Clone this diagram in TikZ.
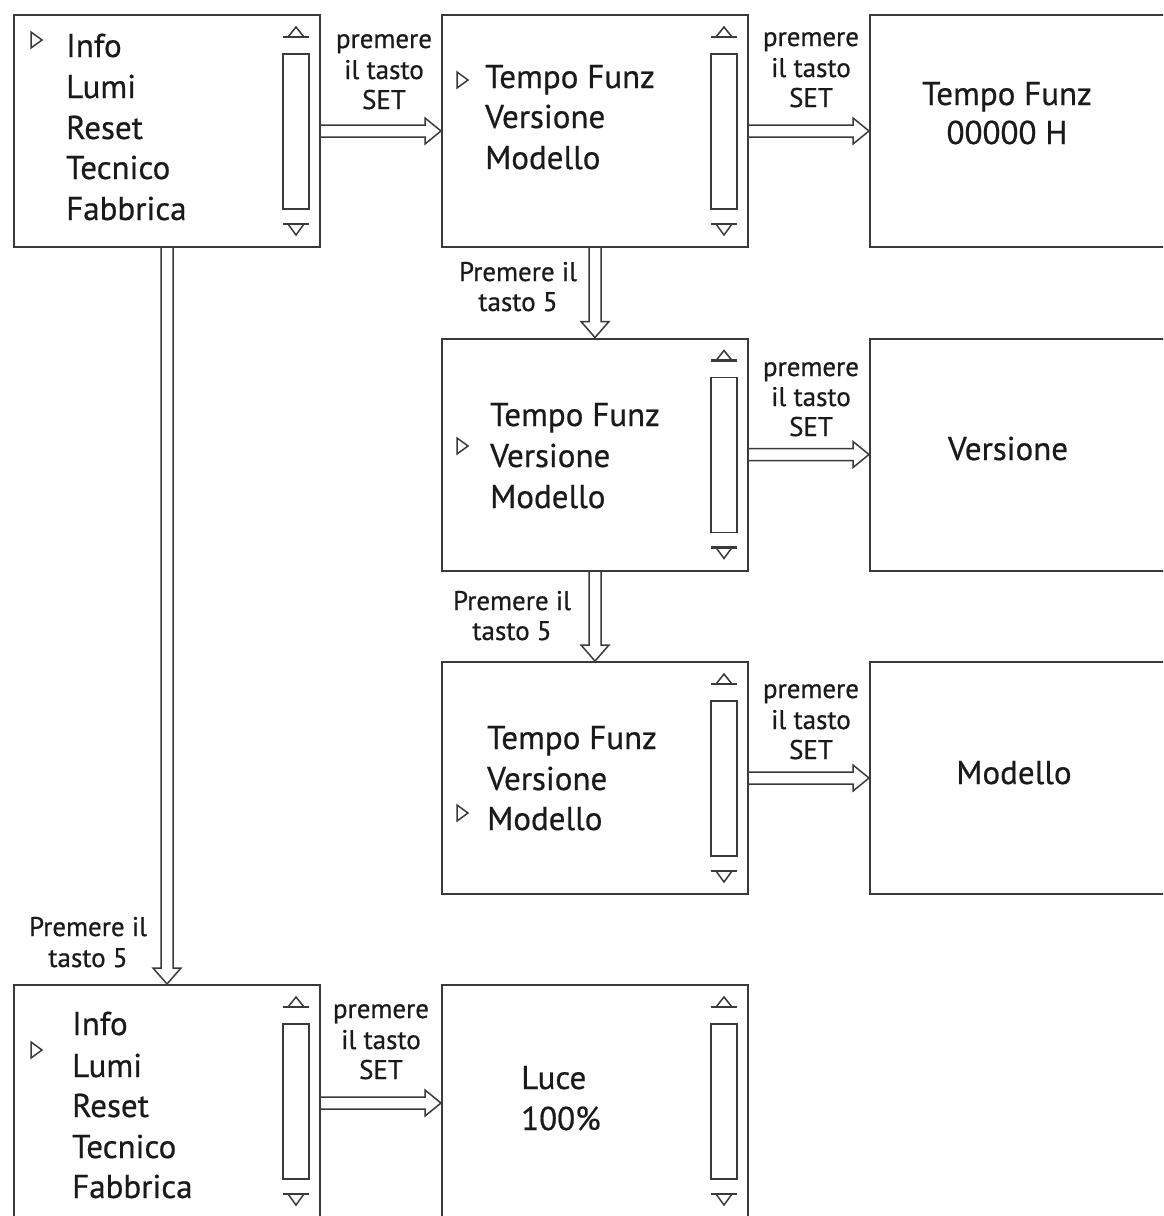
\documentclass[tikz,border=0pt]{standalone}
\usepackage{fontspec}
\setmainfont{PT Sans}
\newfontfamily\dk{PT Sans}[FakeBold=0.6]
\usetikzlibrary{calc}
\definecolor{ln}{HTML}{3A3A3A}
\definecolor{tx}{HTML}{1A1A1A}
\tikzset{
  box/.style={draw=ln, line width=2pt, minimum width=306pt, minimum height=232pt, inner sep=0pt},
  mt/.style={anchor=base west, inner sep=0pt, text=tx, font=\dk\fontsize{33}{38}\selectfont},
  ct/.style={anchor=base, inner sep=0pt, text=tx, font=\dk\fontsize{33}{38}\selectfont},
  lb/.style={anchor=base, inner sep=0pt, text=tx, font=\dk\fontsize{27}{30}\selectfont},
  arr/.style={draw=ln, line width=1.5pt, line join=miter},
  sb/.style={draw=ln, line width=1.5pt, line join=miter},
  sbbase/.style={draw=ln, line width=2.8pt},
  cur/.style={draw=ln, line width=1.5pt, line join=miter},
  harrow/.style={to path={let \p1=(\tikztostart), \p2=(\tikztotarget) in
    (\x1,\y1+6pt) -- (\x2-16pt,\y1+6pt) -- (\x2-16pt,\y1+13pt) -- (\x2,\y1)
    -- (\x2-16pt,\y1-13pt) -- (\x2-16pt,\y1-6pt) -- (\x1,\y1-6pt)}},
  varrow/.style={to path={let \p1=(\tikztostart), \p2=(\tikztotarget) in
    (\x1-6pt,\y1) -- (\x1-6pt,\y2+16pt) -- (\x1-14pt,\y2+16pt) -- (\x1,\y2)
    -- (\x1+14pt,\y2+16pt) -- (\x1+6pt,\y2+16pt) -- (\x1+6pt,\y1)}},
}
\newcommand\myscroll[1]{%
  \begin{scope}[shift={(#1.north east)}]
    \draw[sbbase] (-38,23) -- (-12,23);
    \draw[sb] (-33,23) -- (-25,13) -- (-17,23) -- cycle;
    \draw[sb] (-38,40) rectangle (-12,195);
    \draw[sbbase] (-38,210) -- (-12,210);
    \draw[sb] (-33,210) -- (-25,221) -- (-17,210) -- cycle;
  \end{scope}}
\newcommand\mycursor[2]{\draw[cur] (#1,#2-8) -- (#1+11,#2) -- (#1,#2+8) -- cycle;}
\begin{document}
\begin{tikzpicture}[x=1pt,y=-1pt]
\useasboundingbox (0,0) rectangle (1163,1216);
\clip (0,0) rectangle (1163,1216);
\fill[white] (0,0) rectangle (1163,1216);
% boxes
\node[box] (A) at (167,131) {};
\node[box] (B) at (595,131) {};
\node[box] (C) at (1023,131) {};
\node[box] (D) at (595,454.5) {};
\node[box] (E) at (1023,454.5) {};
\node[box] (F) at (595,778) {};
\node[box] (G) at (1023,778) {};
\node[box] (H) at (167,1101) {};
\node[box] (I) at (595,1101) {};
% scrollbars
\myscroll{A}
\myscroll{B}
\myscroll{D}
\myscroll{F}
\myscroll{H}
\myscroll{I}
% cursors
\mycursor{31}{40}
\mycursor{457}{80}
\mycursor{457}{446}
\mycursor{457}{813}
\mycursor{31}{1050}
% texts A
\node[mt] (a1) at (66,57) {Info};
\node[mt] (a2) at (66,98) {Lumi};
\node[mt] (a3) at (66,139) {Reset};
\node[mt] (a4) at (66,179) {Tecnico};
\node[mt] (a5) at (66,220) {Fabbrica};
% texts B
\node[mt] (b1) at (485,88) {Tempo Funz};
\node[mt] (b2) at (485,128) {Versione};
\node[mt] (b3) at (485,169) {Modello};
% texts C
\node[ct] (c1) at (1007,105) {Tempo Funz};
\node[ct] (c2) at (1007,144) {00000 H};
% texts D
\node[mt] (d1) at (490,426) {Tempo Funz};
\node[mt] (d2) at (490,467) {Versione};
\node[mt] (d3) at (490,508) {Modello};
% E
\node[ct] (e1) at (1008,460) {Versione};
% F
\node[mt] (f1) at (487,749) {Tempo Funz};
\node[mt] (f2) at (487,790) {Versione};
\node[mt] (f3) at (487,830) {Modello};
% G
\node[ct] (g1) at (1014,784) {Modello};
% H
\node[mt] (h1) at (72,1035) {Info};
\node[mt] (h2) at (72,1077) {Lumi};
\node[mt] (h3) at (72,1117) {Reset};
\node[mt] (h4) at (72,1158) {Tecnico};
\node[mt] (h5) at (72,1198) {Fabbrica};
% I
\node[mt] (i1) at (521,1089) {Luce};
\node[mt] (i2) at (521,1130) {100\%};
% connectors
\draw[arr, harrow] (A.east) to (B.west);
\draw[arr, harrow] (B.east) to (C.west);
\draw[arr, harrow] (D.east) to (E.west);
\draw[arr, harrow] (F.east) to (G.west);
\draw[arr, harrow] ([yshift=-2pt]H.east) to ([yshift=-2pt]I.west);
\draw[arr, varrow] (B.south) to (D.north);
\draw[arr, varrow] (D.south) to (F.north);
\draw[arr, varrow] (A.south) to (H.north);
% labels
\node[lb] (l1a) at (384,48) {premere};
\node[lb] (l1b) at (384,79) {il tasto};
\node[lb] (l1c) at (384,109) {SET};
\node[lb] (l2a) at (811,46) {premere};
\node[lb] (l2b) at (811,77) {il tasto};
\node[lb] (l2c) at (811,107) {SET};
\node[lb] (l3a) at (811,376) {premere};
\node[lb] (l3b) at (811,406) {il tasto};
\node[lb] (l3c) at (811,436) {SET};
\node[lb] (l4a) at (811,698) {premere};
\node[lb] (l4b) at (811,729) {il tasto};
\node[lb] (l4c) at (811,759) {SET};
\node[lb] (l5a) at (381,1018) {premere};
\node[lb] (l5b) at (381,1049) {il tasto};
\node[lb] (l5c) at (381,1079) {SET};
\node[lb] (v1a) at (518,281) {Premere il};
\node[lb] (v1b) at (518,311) {tasto 5};
\node[lb] (v2a) at (512,610) {Premere il};
\node[lb] (v2b) at (512,640) {tasto 5};
\node[lb] (v3a) at (88,936) {Premere il};
\node[lb] (v3b) at (88,967) {tasto 5};
\end{tikzpicture}
\end{document}
